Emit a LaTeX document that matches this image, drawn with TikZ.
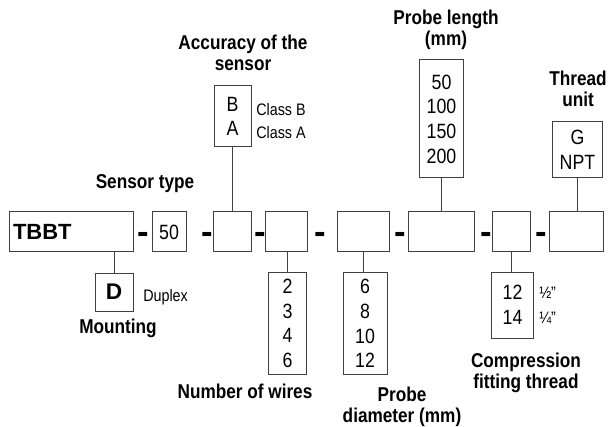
\documentclass[tikz,border=0pt]{standalone}
\usepackage{fontspec}
\setmainfont[FakeStretch=0.86]{Liberation Sans}
\newfontfamily\plainsans{Liberation Sans}
\begin{document}
\begin{tikzpicture}[x=0.75pt,y=-0.75pt,
	slot/.style={draw=black!75,line width=0.75pt,minimum height=30pt,inner sep=0pt,font=\fontsize{15.5}{18.5}\selectfont},
	opt/.style={draw=black!75,line width=0.75pt,inner sep=0pt,align=center,font=\fontsize{15.5}{18.5}\selectfont},
	ttl/.style={inner sep=0pt,align=center,font=\fontsize{15}{15.6}\selectfont\bfseries},
	note/.style={inner sep=0pt,anchor=west,font=\fontsize{12.5}{14}\selectfont},
	hyph/.style={inner sep=0pt,font=\plainsans\fontsize{26}{26}\selectfont\bfseries},
	link/.style={draw=black!75,line width=0.75pt}]
			\useasboundingbox (0,0) rectangle (609,427);
			% code slots
			\node[slot,minimum width=93pt,text width=87pt,align=left,font=\plainsans\fontsize{16.5}{18}\selectfont\bfseries] (tbbt) at (71,231.5) {TBBT};
			\node[slot,minimum width=25.5pt] (s50) at (169,232) {50};
			\node[slot,minimum width=29pt] (acc) at (232.5,232) {};
			\node[slot,minimum width=31.5pt] (wire) at (286.5,232) {};
			\node[slot,minimum width=39pt] (dia) at (363,232) {};
			\node[slot,minimum width=49pt] (len) at (441.5,232) {};
			\node[slot,minimum width=28pt] (fit) at (511.5,232) {};
			\node[slot,minimum width=40.5pt] (thr) at (576,232) {};
			\foreach \x [count=\i] in {143,207,260,320,400.5,486.5,541}
				\node[hyph] (d\i) at (\x,238) {-};
			% option boxes
			\node[opt,minimum width=27.75pt,minimum height=45.75pt] (accOpt) at (232.5,116.5) {B\\A};
			\node[opt,minimum width=33pt,minimum height=88.5pt] (lenOpt) at (441.5,119) {50\\100\\150\\200};
			\node[opt,minimum width=38pt,minimum height=42pt] (thrOpt) at (577.5,150) {G\\NPT};
			\node[opt,minimum width=28.5pt,minimum height=28.5pt,font=\plainsans\fontsize{17}{18}\selectfont\bfseries] (mntOpt) at (114,292) {D};
			\node[opt,minimum width=29pt,minimum height=77pt] (wireOpt) at (287.5,323.5) {2\\3\\4\\6};
			\node[opt,minimum width=33pt,minimum height=77pt] (diaOpt) at (365,323.5) {6\\8\\10\\12};
			\node[opt,minimum width=31pt,minimum height=49.5pt] (fitOpt) at (512.5,305) {12\\14};
			\node[note] (clsB) at (256,110) {Class B};
			\node[note] (clsA) at (256,133) {Class A};
			\node[note] (dup) at (143,297) {Duplex};
			\node[note] (half) at (539,293) {½"};
			\node[note] (quar) at (539,318) {¼"};
			% titles
			\node[ttl] (tSen) at (145,183.5) {Sensor type};
			\node[ttl] (tAcc) at (243,53) {Accuracy of the\\sensor};
			\node[ttl] (tLen) at (446,30) {Probe length\\(mm)};
			\node[ttl] (tThr) at (578,89) {Thread\\unit};
			\node[ttl] (tMnt) at (118,328) {Mounting};
			\node[ttl] (tWire) at (245,391.5) {Number of wires};
			\node[ttl] (tDia) at (402,407) {Probe\\diameter (mm)};
			\node[ttl] (tFit) at (526,373) {Compression\\fitting thread};
			% connectors
			\draw[link] (accOpt.south) -- (accOpt.south |- acc.north);
			\draw[link] (lenOpt.south) -- (lenOpt.south |- len.north);
			\draw[link] (thrOpt.south) -- (thrOpt.south |- thr.north);
			\draw[link] (mntOpt.north) -- (mntOpt.north |- tbbt.south);
			\draw[link] (wireOpt.north) -- (wireOpt.north |- wire.south);
			\draw[link] (dia.south) -- (dia.south |- diaOpt.north);
			\draw[link] (fit.south) -- (fit.south |- fitOpt.north);
			\end{tikzpicture}
\end{document}
